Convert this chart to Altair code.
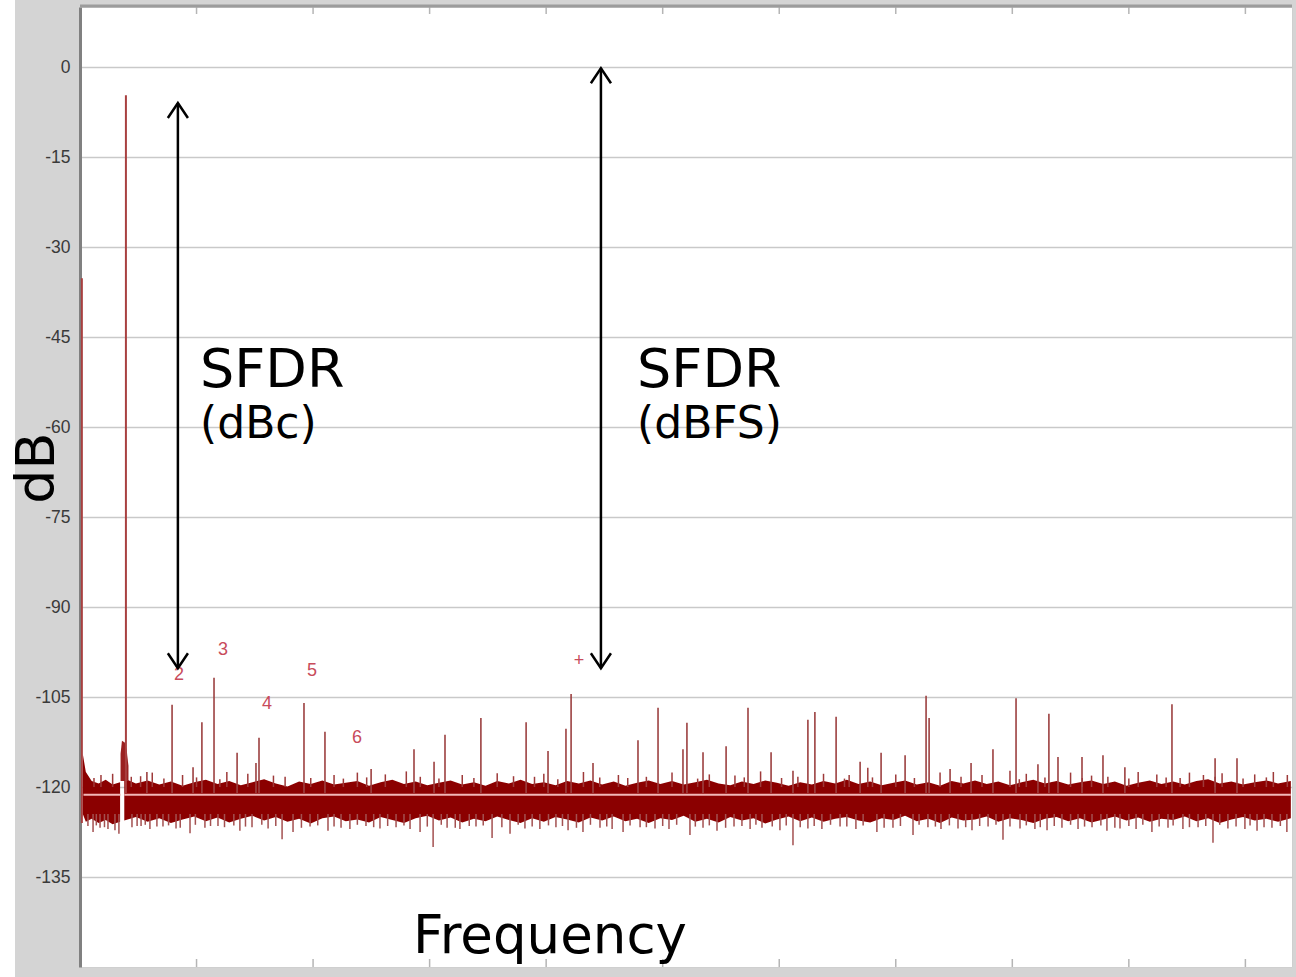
import altair as alt
import pandas as pd

# ---------------- data ----------------
# frequency axis in arbitrary units 0..52 (minor ticks every 5), level in dB
y_ticks = [0, -15, -30, -45, -60, -75, -90, -105, -120, -135]
x_minor_ticks = [5, 10, 15, 20, 25, 30, 35, 40, 45, 50]

# noise floor band, segment left of the carrier
band_a_f = [0.12, 0.25, 0.5, 0.8, 1.1, 1.4, 1.72]
band_a_top = [-114.5, -117.5, -119.0, -119.4, -118.8, -119.6, -119.2]
band_a_bot = [-124.5, -125.8, -125.3, -126.0, -125.5, -126.2, -125.8]

# noise floor band, main segment
band_b_f = [1.9, 2.4, 2.9, 3.4, 3.9, 4.4, 4.9, 5.4, 5.9, 6.4,
            6.9, 7.4, 7.9, 8.4, 8.9, 9.4, 9.9, 10.4, 10.9, 11.4,
            11.9, 12.4, 12.9, 13.4, 13.9, 14.4, 14.9, 15.4, 15.9, 16.4,
            16.9, 17.4, 17.9, 18.4, 18.9, 19.4, 19.9, 20.4, 20.9, 21.4,
            21.9, 22.4, 22.9, 23.4, 23.9, 24.4, 24.9, 25.4, 25.9, 26.4,
            26.9, 27.4, 27.9, 28.4, 28.9, 29.4, 29.9, 30.4, 30.9, 31.4,
            31.9, 32.4, 32.9, 33.4, 33.9, 34.4, 34.9, 35.4, 35.9, 36.4,
            36.9, 37.4, 37.9, 38.4, 38.9, 39.4, 39.9, 40.4, 40.9, 41.4,
            41.9, 42.4, 42.9, 43.4, 43.9, 44.4, 44.9, 45.4, 45.9, 46.4,
            46.9, 47.4, 47.9, 48.4, 48.9, 49.4, 49.9, 50.4, 50.9, 51.4, 51.95]
band_b_top = [-118.6, -119.4, -118.9, -119.6, -119.1, -119.8, -119.2, -118.8, -119.5, -119.0,
              -119.7, -119.2, -118.7, -119.4, -119.9, -119.1, -119.5, -118.9, -119.6, -119.3,
              -119.0, -119.8, -119.2, -118.8, -119.5, -119.1, -119.7, -119.3, -118.9, -119.6,
              -119.2, -119.8, -119.0, -119.4, -118.8, -119.5, -119.2, -119.7, -119.0, -119.4,
              -118.9, -119.6, -119.1, -119.8, -119.3, -118.9, -119.5, -119.0, -119.6, -119.2,
              -118.8, -119.4, -119.7, -119.1, -119.5, -118.9, -119.3, -119.8, -119.2, -119.6,
              -119.0, -119.4, -118.8, -119.5, -119.1, -119.7, -119.3, -118.9, -119.6, -119.2,
              -119.8, -119.0, -119.4, -118.9, -119.5, -119.1, -119.7, -119.2, -118.8, -119.4,
              -119.0, -119.6, -119.2, -118.9, -119.5, -119.1, -119.8, -119.3, -118.9, -119.5,
              -119.1, -119.6, -119.0, -118.7, -119.4, -119.1, -119.6, -119.2, -118.9, -119.4, -119.0]
band_b_bot = [-125.6, -125.0, -125.8, -125.2, -126.0, -125.4, -124.9, -125.7, -125.1, -125.9,
              -125.3, -124.8, -125.6, -125.0, -125.8, -125.3, -126.1, -125.2, -124.9, -125.7,
              -125.4, -125.9, -125.0, -125.5, -126.0, -125.2, -124.8, -125.6, -125.1, -125.9,
              -125.3, -125.7, -124.9, -125.5, -126.0, -125.2, -125.8, -125.0, -125.4, -125.9,
              -125.1, -125.6, -124.9, -125.7, -125.3, -126.0, -125.2, -125.5, -124.8, -125.8,
              -125.3, -125.9, -125.0, -125.6, -125.2, -126.1, -125.4, -124.9, -125.7, -125.1,
              -125.8, -125.3, -125.0, -125.6, -125.9, -125.2, -125.5, -124.8, -125.7, -125.3,
              -126.0, -125.1, -125.6, -125.4, -124.9, -125.8, -125.2, -125.5, -126.0, -125.3,
              -125.0, -125.7, -125.2, -125.9, -125.4, -124.9, -125.6, -125.1, -125.8, -125.3,
              -125.5, -124.9, -125.7, -125.2, -126.0, -125.4, -125.0, -125.6, -125.3, -125.8, -125.2]

# small hump at the carrier foot
hump_f = [1.74, 1.80, 1.92, 2.0, 2.08]
hump_top = [-114.5, -112.3, -112.6, -113.8, -116.5]

# carrier and DC
carrier_f = [1.97]
carrier_db = [-4.7]
dc_f = [0.08]
dc_db = [-35.2]

# spurs (harmonics and others)
spur_f = [3.95, 5.23, 5.75, 6.74, 7.55, 7.68, 9.61, 10.51, 12.49, 14.33,
          15.19, 15.66, 17.20, 19.14, 20.08, 20.85, 21.07, 22.01, 23.94, 24.80,
          25.87, 26.04, 26.73, 27.72, 28.66, 29.65, 30.59, 31.23, 31.53, 32.44,
          33.47, 34.37, 35.40, 36.30, 36.43, 37.33, 38.23, 39.17, 40.16, 41.10,
          41.57, 41.96, 42.99, 43.89, 44.83, 46.85, 48.70, 49.64, 2.87, 4.85]
spur_db = [-106.3, -109.2, -101.8, -114.3, -116.0, -111.8, -106.0, -110.8, -117.0, -113.7,
           -115.8, -111.3, -108.5, -109.2, -114.0, -110.3, -104.5, -116.0, -112.2, -106.8,
           -113.7, -109.3, -114.2, -113.2, -106.8, -114.2, -117.3, -108.8, -107.5, -108.3,
           -115.8, -114.3, -114.7, -104.8, -108.5, -117.0, -116.0, -113.7, -105.2, -116.2,
           -107.8, -115.0, -115.0, -114.7, -116.7, -106.2, -115.2, -115.2, -117.5, -116.7]

# downward noise tips
down_f = [0.34, 0.56, 0.86, 1.20, 1.50, 1.67, 2.23, 2.62, 3.00, 3.56,
          4.12, 4.72, 5.36, 5.92, 6.86, 7.38, 8.07, 8.67, 9.14, 9.87,
          10.64, 11.20, 11.58, 12.27, 12.87, 13.56, 14.16, 14.59, 15.15, 15.75,
          16.30, 16.99, 17.68, 18.45, 19.09, 19.73, 20.42, 20.94, 21.58, 22.31,
          22.83, 23.30, 24.03, 24.67, 25.27, 26.17, 26.73, 27.33, 28.06, 28.75,
          29.26, 30.03, 30.59, 31.23, 31.83, 32.61, 33.29, 34.19, 34.88, 35.74,
          36.38, 36.94, 37.67, 38.27, 38.96, 39.60, 40.33, 40.97, 41.49, 42.13,
          42.82, 43.42, 44.06, 44.62, 45.31, 45.99, 46.68, 47.32, 47.97, 48.61,
          49.25, 49.98, 50.50, 51.14, 51.78]
down_db = [-126.5, -127.5, -126.8, -127.0, -127.2, -127.8, -126.7, -126.5, -127.0, -126.6,
           -126.9, -127.7, -126.8, -126.5, -127.3, -126.7, -126.9, -128.7, -127.5, -126.6,
           -127.3, -126.8, -127.0, -126.5, -126.9, -126.7, -127.0, -127.5, -130.0, -126.8,
           -127.0, -126.6, -128.5, -127.8, -126.9, -127.0, -126.7, -127.2, -127.5, -126.8,
           -127.0, -127.5, -126.7, -126.9, -127.0, -128.0, -126.8, -127.3, -126.6, -127.0,
           -126.8, -127.2, -129.7, -126.9, -127.0, -126.6, -127.0, -127.5, -126.8, -128.0,
           -126.7, -127.0, -126.9, -127.2, -126.6, -128.8, -126.9, -127.0, -127.2, -126.8,
           -127.0, -126.7, -127.3, -126.9, -127.0, -127.5, -126.8, -127.0, -126.7, -129.3,
           -126.9, -127.0, -127.3, -126.8, -127.5]

# shorter downward tips between the larger ones
down2_f = [0.7, 1.05, 2.45, 2.8, 3.3, 3.8, 4.3, 4.95, 5.6, 6.2,
           6.6, 7.1, 7.8, 8.4, 9.5, 10.2, 10.9, 11.9, 12.6, 13.2,
           13.9, 14.9, 15.5, 16.1, 16.7, 17.3, 18.1, 18.8, 19.4, 20.1,
           20.7, 21.3, 21.9, 22.6, 23.6, 24.3, 25.0, 25.6, 26.4, 27.0,
           27.7, 28.4, 29.0, 29.7, 30.3, 30.9, 31.5, 32.2, 32.9, 33.6,
           34.5, 35.2, 36.0, 36.7, 37.3, 38.0, 38.6, 39.3, 39.9, 40.6,
           41.2, 41.8, 42.5, 43.1, 43.8, 44.4, 45.0, 45.6, 46.3, 46.9,
           47.6, 48.3, 48.9, 49.6, 50.2, 50.8, 51.5]
down2_db = [-126.4, -126.7, -126.5, -126.3, -126.6, -126.4, -126.8, -126.3, -126.5, -126.7,
            -126.4, -126.6, -126.3, -126.5, -126.8, -126.4, -126.6, -126.3, -126.7, -126.5,
            -126.4, -126.6, -126.3, -126.8, -126.5, -126.4, -126.7, -126.3, -126.6, -126.4,
            -126.5, -126.8, -126.3, -126.6, -126.4, -126.7, -126.5, -126.3, -126.6, -126.4,
            -126.8, -126.5, -126.3, -126.6, -126.4, -126.7, -126.5, -126.3, -126.6, -126.4,
            -126.8, -126.5, -126.3, -126.6, -126.4, -126.7, -126.5, -126.3, -126.6, -126.4,
            -126.7, -126.5, -126.3, -126.6, -126.4, -126.8, -126.5, -126.3, -126.6, -126.4,
            -126.7, -126.5, -126.3, -126.6, -126.4, -126.7, -126.5]

# upward noise tips
up_f = [0.9, 1.4, 2.6, 3.1, 4.4, 6.3, 7.2, 8.3, 10.9, 11.9,
        13.1, 14.0, 16.4, 17.9, 18.6, 19.9, 21.6, 23.1, 25.4, 27.0,
        28.1, 29.2, 31.9, 33.0, 33.8, 35.0, 36.9, 38.7, 39.9, 40.6,
        42.5, 43.4, 45.4, 46.2, 47.6, 48.2, 49.0, 50.4, 51.2, 51.8]
up_db = [-118.0, -117.8, -118.2, -117.6, -118.0, -117.5, -117.8, -118.1, -118.0, -117.6,
         -117.9, -117.4, -118.0, -117.7, -118.2, -117.8, -117.5, -118.0, -117.6, -117.9,
         -118.1, -117.4, -117.8, -118.0, -116.8, -117.9, -117.6, -118.0, -117.3, -117.8,
         -117.6, -118.1, -117.5, -117.9, -117.6, -118.0, -117.7, -117.9, -117.5, -118.0]

# shorter upward tips
up2_f = [0.6, 2.2, 3.6, 5.0, 6.0, 8.8, 9.9, 11.3, 12.3, 14.6,
         15.4, 16.9, 19.5, 20.5, 22.3, 23.5, 24.3, 26.5, 28.5, 30.1,
         30.8, 32.8, 34.0, 35.8, 37.8, 40.3, 41.4, 43.0, 44.1, 45.0,
         46.6, 47.2, 48.7, 49.9, 50.9]
up2_db = [-118.5, -118.3, -118.6, -118.4, -118.7, -118.3, -118.5, -118.6, -118.4, -118.3,
          -118.6, -118.5, -118.3, -118.7, -118.4, -118.5, -118.3, -118.6, -118.4, -118.5,
          -118.3, -118.6, -118.4, -118.5, -118.3, -118.7, -118.4, -118.5, -118.3, -118.6,
          -118.4, -118.5, -118.3, -118.6, -118.4]

# mean noise level line
mean_db = -121.3
mean_from = [0.15, 1.9]
mean_to = [1.74, 51.95]

# harmonic labels
harm_text = ["2", "3", "4", "5", "6", "+"]
harm_f = [4.25, 6.13, 8.02, 9.95, 11.88, 21.41]
harm_db = [-101.3, -97.2, -106.2, -100.7, -111.8, -99.0]

# SFDR arrows
arrow_f = [4.20, 22.35]
arrow_top = [-6.0, -0.2]
arrow_bot = [-100.2, -100.2]

# SFDR text annotations
ann_line1 = ["SFDR", "SFDR"]
ann_line2 = ["(dBc)", "(dBFS)"]
ann_f = [5.15, 23.90]
ann_db1 = [-53.3, -53.3]
ann_db2 = [-61.8, -61.8]

# ---------------- chart ----------------
XS = alt.Scale(domain=[0, 52], nice=False, zero=False)
YS = alt.Scale(domain=[-150, 10], nice=False, zero=False)
X_AX = alt.Axis(labels=False, ticks=False, domain=False, grid=False, title=None)
Y_AX = alt.Axis(values=y_ticks, title=None, ticks=False, labelPadding=10,
                labelExpr="toString(datum.value)",
                labelFont="Liberation Sans", labelFontSize=17.5, labelColor="#3a3a3a",
                grid=True, gridColor="#c9c9c9", gridWidth=1.6,
                domain=True, domainColor="#808080", domainWidth=3)


def X(field):
    return alt.X(field, type="quantitative", scale=XS, axis=X_AX)


def Y(field):
    return alt.Y(field, type="quantitative", scale=YS, axis=Y_AX)


band_a = pd.DataFrame({"f": band_a_f, "top": band_a_top, "bot": band_a_bot})
band_b = pd.DataFrame({"f": band_b_f, "top": band_b_top, "bot": band_b_bot})
hump = pd.DataFrame({"f": hump_f, "top": hump_top, "bot": [-119.0] * len(hump_f)})
spurs = pd.DataFrame({"f": spur_f, "db": spur_db, "base": [-121.0] * len(spur_f)})
downs = pd.DataFrame({"f": down_f + down2_f, "db": down_db + down2_db,
                      "base": [-124.5] * (len(down_f) + len(down2_f))})
ups = pd.DataFrame({"f": up_f + up2_f, "db": up_db + up2_db,
                    "base": [-120.0] * (len(up_f) + len(up2_f))})
carrier = pd.DataFrame({"f": carrier_f + dc_f, "db": carrier_db + dc_db,
                        "base": [-121.0, -126.0]})
means = pd.DataFrame({"f": mean_from, "f2": mean_to, "db": [mean_db] * 2})
harm = pd.DataFrame({"f": harm_f, "db": harm_db, "t": harm_text})
arrows = pd.DataFrame({"f": arrow_f, "top": arrow_top, "bot": arrow_bot})
ann = pd.DataFrame({"f": ann_f, "db1": ann_db1, "db2": ann_db2,
                    "l1": ann_line1, "l2": ann_line2})
ticks = pd.DataFrame({"f": x_minor_ticks})
one = pd.DataFrame({"k": [0]})

BAND = "#8b0000"
SPUR = "#9c4040"

tick_top = alt.Chart(ticks).mark_rule(color="#b5b5b5", strokeWidth=1.5).encode(
    x=X("f"), y=alt.value(0), y2=alt.value(7))
tick_bot = alt.Chart(ticks).mark_rule(color="#b5b5b5", strokeWidth=1.5).encode(
    x=X("f"), y=alt.value(952), y2=alt.value(960))
top_border = alt.Chart(one).mark_rule(color="#9c9c9c", strokeWidth=3).encode(
    x=alt.value(0), x2=alt.value(1212), y=alt.value(-1))
white_strip = alt.Chart(one).mark_rect(color="white").encode(
    x=alt.value(-80), x2=alt.value(-65), y=alt.value(-7), y2=alt.value(970))

l_band_a = alt.Chart(band_a).mark_area(color=BAND, opacity=1).encode(
    x=X("f"), y=Y("top"), y2="bot")
l_band_b = alt.Chart(band_b).mark_area(color=BAND, opacity=1).encode(
    x=X("f"), y=Y("top"), y2="bot")
l_hump = alt.Chart(hump).mark_area(color="#9a2020").encode(
    x=X("f"), y=Y("top"), y2="bot")
l_down = alt.Chart(downs).mark_rule(color="#a35050", strokeWidth=1.5).encode(
    x=X("f"), y=Y("db"), y2="base")
l_up = alt.Chart(ups).mark_rule(color="#9e3a3a", strokeWidth=1.5).encode(
    x=X("f"), y=Y("db"), y2="base")
l_spur = alt.Chart(spurs).mark_rule(color=SPUR, strokeWidth=1.6).encode(
    x=X("f"), y=Y("db"), y2="base")
l_carrier = alt.Chart(carrier).mark_rule(color="#a84040", strokeWidth=2).encode(
    x=X("f"), y=Y("db"), y2="base")
l_mean = alt.Chart(means).mark_rule(color="#f2b6b6", strokeWidth=2).encode(
    x=X("f"), x2="f2", y=Y("db"))
l_harm = alt.Chart(harm).mark_text(color="#c84b5b", font="Liberation Sans",
                                   fontSize=18, align="center", baseline="middle").encode(
    x=X("f"), y=Y("db"), text="t")

l_shaft = alt.Chart(arrows).mark_rule(color="black", strokeWidth=2.5).encode(
    x=X("f"), y=Y("top"), y2="bot")
l_head_up = alt.Chart(arrows).mark_point(
    shape="M -0.67 1 L 0 0 L 0.67 1", size=900, filled=False, color="black",
    strokeWidth=2.5, opacity=1).encode(x=X("f"), y=Y("top"))
l_head_dn = alt.Chart(arrows).mark_point(
    shape="M -0.67 -1 L 0 0 L 0.67 -1", size=900, filled=False, color="black",
    strokeWidth=2.5, opacity=1).encode(x=X("f"), y=Y("bot"))

l_ann1 = alt.Chart(ann).mark_text(color="black", font="DejaVu Sans", fontSize=54,
                                  align="left", baseline="alphabetic").encode(
    x=X("f"), y=Y("db1"), text="l1")
l_ann2 = alt.Chart(ann).mark_text(color="black", font="DejaVu Sans", fontSize=44,
                                  align="left", baseline="alphabetic").encode(
    x=X("f"), y=Y("db2"), text="l2")

l_db = alt.Chart(one).mark_text(color="black", font="DejaVu Sans", fontSize=54,
                                angle=270, align="center", baseline="middle").encode(
    x=alt.value(-42), y=alt.value(461), text=alt.value("dB"))
l_freq = alt.Chart(one).mark_text(color="black", font="DejaVu Sans", fontSize=53,
                                  align="center", baseline="alphabetic").encode(
    x=alt.value(470), y=alt.value(946), text=alt.value("Frequency"))

chart = alt.layer(
    white_strip, l_band_a, l_band_b, l_hump, l_mean, l_down, l_up, l_spur, l_carrier,
    tick_top, tick_bot, top_border, l_harm, l_shaft, l_head_up, l_head_dn,
    l_ann1, l_ann2, l_db, l_freq
).properties(
    width=1212, height=960,
    autosize=alt.AutoSizeParams(type="none"),
    padding={"left": 80, "top": 7, "right": 4, "bottom": 10},
    background="#d4d4d4",
).configure_view(fill="white", stroke="#cfcfcf", strokeWidth=1)

chart.save("out.html", embed_options={"renderer": "svg", "actions": False})
